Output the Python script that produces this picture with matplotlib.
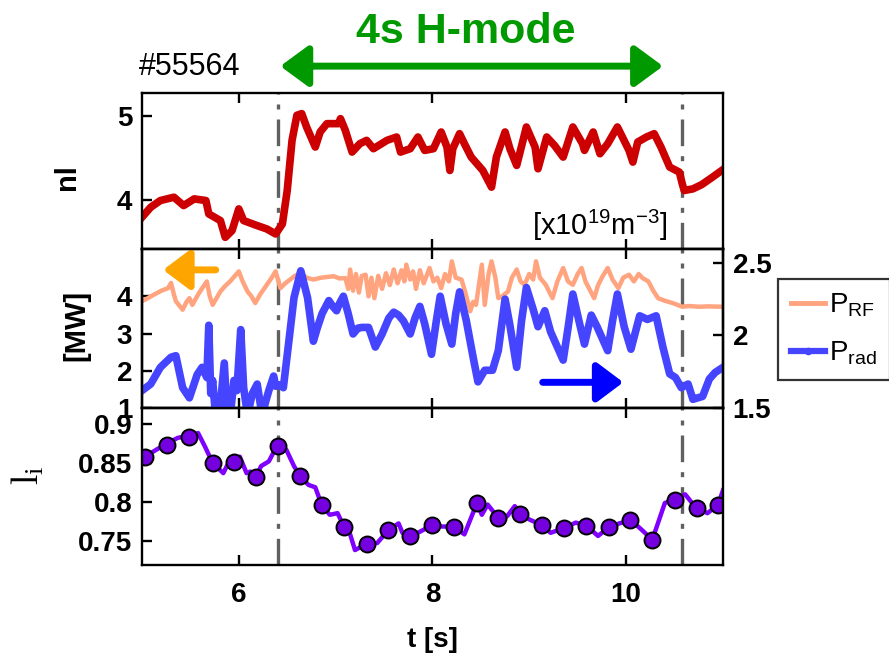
import matplotlib
matplotlib.use('Agg')
import matplotlib.pyplot as plt
from matplotlib.patches import FancyArrowPatch
from matplotlib.lines import Line2D

plt.rcParams['font.family'] = ['Liberation Sans', 'DejaVu Sans']
plt.rcParams['mathtext.default'] = 'regular'

# line-averaged density nl [1e19 m^-3]
nl_t = [5.00, 5.09, 5.19, 5.33, 5.43, 5.54, 5.66, 5.69, 5.81, 5.86, 5.93, 6.00, 6.05, 6.19,
        6.29, 6.38, 6.45, 6.50, 6.55, 6.60, 6.65, 6.70, 6.79, 6.84, 6.91, 7.03, 7.05, 7.10,
        7.17, 7.25, 7.32, 7.39, 7.53, 7.63, 7.67, 7.77, 7.85, 7.92, 8.01, 8.09, 8.15, 8.18,
        8.21, 8.28, 8.33, 8.40, 8.52, 8.61, 8.66, 8.75, 8.80, 8.87, 8.97, 9.06, 9.09, 9.18,
        9.26, 9.35, 9.45, 9.55, 9.57, 9.66, 9.73, 9.81, 9.91, 10.03, 10.07, 10.12, 10.21,
        10.29, 10.36, 10.45, 10.55, 10.58, 10.60, 10.69, 10.78, 10.88, 11.00]
nl_val = [3.79, 3.91, 3.99, 4.03, 3.93, 4.01, 3.99, 3.83, 3.75, 3.55, 3.63, 3.89, 3.75, 3.69,
          3.65, 3.59, 3.71, 4.11, 4.71, 5.01, 5.03, 4.87, 4.63, 4.81, 4.91, 4.91, 4.97, 4.83,
          4.57, 4.67, 4.71, 4.61, 4.71, 4.75, 4.57, 4.61, 4.75, 4.59, 4.61, 4.81, 4.63, 4.35,
          4.61, 4.79, 4.67, 4.51, 4.35, 4.15, 4.51, 4.81, 4.61, 4.41, 4.87, 4.63, 4.37, 4.75,
          4.65, 4.51, 4.87, 4.67, 4.59, 4.81, 4.55, 4.67, 4.87, 4.59, 4.45, 4.69, 4.75,
          4.79, 4.63, 4.39, 4.33, 4.19, 4.11, 4.13, 4.18, 4.26, 4.36]

# RF power [MW], left axis
prf_t = [5.00, 5.06, 5.12, 5.20, 5.27, 5.30, 5.33, 5.35, 5.42, 5.46, 5.49, 5.52, 5.58, 5.63,
         5.67, 5.70, 5.73, 5.77, 5.81, 5.86, 5.91, 5.96, 6.00, 6.04, 6.09, 6.13, 6.17, 6.22,
         6.29, 6.34, 6.38, 6.41, 6.43, 6.48, 6.53, 6.58, 6.64, 6.70, 6.77, 6.85, 6.92, 6.98,
         7.04, 7.10, 7.13, 7.15, 7.18, 7.21, 7.24, 7.27, 7.31, 7.34, 7.37, 7.40, 7.44, 7.48,
         7.52, 7.56, 7.60, 7.64, 7.68, 7.71, 7.73, 7.77, 7.80, 7.83, 7.87, 7.91, 7.97, 8.01,
         8.05, 8.09, 8.13, 8.17, 8.20, 8.24, 8.30, 8.34, 8.39, 8.42, 8.45, 8.48, 8.51, 8.54,
         8.58, 8.61, 8.65, 8.68, 8.72, 8.78, 8.82, 8.87, 8.91, 8.95, 9.00, 9.04, 9.07, 9.11,
         9.17, 9.21, 9.24, 9.29, 9.35, 9.40, 9.45, 9.50, 9.54, 9.58, 9.63, 9.67, 9.71, 9.76,
         9.81, 9.86, 9.92, 9.97, 10.03, 10.08, 10.13, 10.17, 10.23, 10.28, 10.33, 10.40,
         10.48, 10.58, 10.65, 10.75, 10.85, 11.00]
prf_val = [3.87, 3.95, 4.04, 4.15, 4.22, 4.36, 4.05, 3.87, 3.64, 3.85, 3.95, 3.77, 4.05, 4.25,
           4.40, 4.00, 3.77, 3.95, 4.13, 4.28, 4.40, 4.55, 4.67, 4.40, 4.13, 4.00, 3.82, 4.05,
           4.31, 4.50, 4.67, 4.40, 4.22, 4.35, 4.45, 4.55, 4.63, 4.50, 4.45, 4.50, 4.52, 4.54,
           4.48, 4.49, 4.20, 4.72, 4.15, 4.60, 4.10, 4.55, 4.58, 4.00, 4.50, 3.95, 4.55, 4.20,
           4.62, 4.30, 4.72, 4.35, 4.70, 4.40, 4.85, 4.45, 4.67, 4.20, 4.70, 4.35, 4.76, 4.40,
           4.50, 4.22, 4.60, 4.40, 4.94, 4.50, 4.45, 4.10, 3.60, 3.85, 3.77, 4.30, 4.85, 3.77,
           4.60, 4.94, 4.50, 3.95, 4.00, 4.13, 4.50, 4.72, 4.40, 4.31, 4.60, 4.45, 4.94, 4.50,
           4.31, 4.10, 3.95, 4.40, 4.76, 4.40, 4.31, 4.60, 4.76, 4.40, 4.15, 3.95, 4.30, 4.55,
           4.76, 4.45, 4.22, 4.50, 4.58, 4.40, 4.60, 4.49, 4.40, 4.15, 3.95, 3.88,
           3.82, 3.72, 3.74, 3.72, 3.73, 3.72]

# radiated power, right axis
prad_t = [5.00, 5.09, 5.19, 5.30, 5.35, 5.42, 5.49, 5.57, 5.62, 5.67, 5.69, 5.71, 5.73, 5.76,
          5.80, 5.85, 5.88, 5.92, 5.95, 5.98, 6.02, 6.05, 6.09, 6.14, 6.19, 6.24, 6.28, 6.31,
          6.36, 6.38, 6.42, 6.46, 6.51, 6.57, 6.64, 6.71, 6.77, 6.81, 6.86, 6.93, 6.97, 7.01,
          7.04, 7.08, 7.13, 7.18, 7.23, 7.27, 7.34, 7.41, 7.48, 7.55, 7.60, 7.65, 7.70, 7.77,
          7.82, 7.87, 7.92, 7.99, 8.04, 8.08, 8.14, 8.20, 8.24, 8.28, 8.35, 8.42, 8.47, 8.54,
          8.62, 8.68, 8.75, 8.80, 8.87, 8.92, 8.97, 9.04, 9.09, 9.16, 9.22, 9.29, 9.35, 9.40,
          9.45, 9.52, 9.57, 9.64, 9.70, 9.76, 9.81, 9.86, 9.91, 9.98, 10.05, 10.14, 10.22,
          10.31, 10.38, 10.45, 10.51, 10.57, 10.64, 10.69, 10.74, 10.79, 10.86, 10.92, 11.00]
prad_val = [1.62, 1.665, 1.78, 1.85, 1.86, 1.64, 1.57, 1.73, 1.78, 1.71, 2.07, 1.60, 1.69, 1.45,
            1.45, 1.81, 1.45, 1.50, 1.69, 1.62, 2.04, 1.64, 1.45, 1.60, 1.665, 1.45, 1.55, 1.62,
            1.72, 1.65, 1.66, 1.64, 1.92, 2.26, 2.445, 2.26, 1.96, 2.05, 2.15, 2.24, 2.20, 2.17,
            2.22, 2.27, 2.15, 2.01, 2.05, 2.055, 2.055, 1.92, 2.01, 2.12, 2.16, 2.14, 2.10, 2.01,
            2.12, 2.20, 2.08, 1.87, 2.10, 2.27, 2.08, 1.94, 2.15, 2.30, 2.10, 1.85, 1.68, 1.76,
            1.76, 1.895, 2.25, 2.07, 1.78, 2.10, 2.33, 2.18, 2.06, 2.17, 2.025, 1.92, 1.83, 2.05,
            2.285, 2.08, 1.94, 2.14, 2.06, 1.97, 1.895, 2.10, 2.285, 2.06, 1.905, 2.135, 2.11,
            2.135, 1.92, 1.735, 1.71, 1.64, 1.665, 1.56, 1.57, 1.58, 1.70, 1.745, 1.78]

# internal inductance li
li_t = [5.03, 5.15, 5.26, 5.37, 5.49, 5.58, 5.65, 5.73, 5.84, 5.90, 6.01, 6.08, 6.12, 6.18,
        6.23, 6.31, 6.40, 6.49, 6.57, 6.63, 6.72, 6.79, 6.86, 6.94, 7.02, 7.09, 7.15, 7.20,
        7.32, 7.43, 7.54, 7.65, 7.69, 7.77, 7.88, 8.00, 8.10, 8.22, 8.33, 8.46, 8.51, 8.57,
        8.68, 8.77, 8.85, 8.91, 9.00, 9.13, 9.22, 9.36, 9.48, 9.59, 9.71, 9.82, 9.93, 10.05,
        10.16, 10.27, 10.40, 10.50, 10.61, 10.72, 10.84, 10.95, 11.00]
li_val = [0.858, 0.867, 0.875, 0.882, 0.885, 0.888, 0.871, 0.850, 0.837, 0.852, 0.858, 0.837,
          0.839, 0.833, 0.846, 0.852, 0.873, 0.867, 0.846, 0.834, 0.822, 0.819, 0.795, 0.784,
          0.786, 0.768, 0.759, 0.739, 0.747, 0.748, 0.764, 0.773, 0.761, 0.756, 0.763, 0.771,
          0.769, 0.769, 0.759, 0.799, 0.784, 0.797, 0.780, 0.782, 0.795, 0.785, 0.778, 0.771,
          0.761, 0.767, 0.774, 0.770, 0.757, 0.768, 0.773, 0.777, 0.765, 0.752, 0.799, 0.803,
          0.810, 0.793, 0.786, 0.797, 0.815]
li_mark_t = [5.03, 5.26, 5.49, 5.73, 5.95, 6.18, 6.40, 6.63, 6.86, 7.09, 7.32, 7.54, 7.77,
             8.00, 8.22, 8.46, 8.68, 8.90, 9.13, 9.36, 9.59, 9.82, 10.04, 10.27, 10.50,
             10.73, 10.95]
li_mark = [0.858, 0.873, 0.883, 0.850, 0.851, 0.832, 0.871, 0.834, 0.796, 0.768, 0.747,
           0.764, 0.757, 0.771, 0.769, 0.799, 0.780, 0.785, 0.771, 0.767, 0.770, 0.768,
           0.777, 0.752, 0.803, 0.793, 0.797]

hmode_start, hmode_end = 6.40, 10.58
arrow_start, arrow_end = 6.40, 10.41

fig = plt.figure(figsize=(8.89, 6.68), dpi=100)
L, W = 0.1597, 0.6535
ax1 = fig.add_axes([L, 0.6272, W, 0.2340])
ax2 = fig.add_axes([L, 0.3892, W, 0.2380])
ax3 = fig.add_axes([L, 0.1542, W, 0.2350])
ax2r = ax2.twinx()

dashdot = (0, (8, 3, 1.5, 3))

for ax in (ax1, ax2, ax3, ax2r):
    ax.set_xlim(5, 11)
    for sp in ax.spines.values():
        sp.set_linewidth(1.7)
    ax.tick_params(direction='in', length=7, width=1.7, labelsize=20, pad=7)

for ax in (ax1, ax2, ax3):
    ax.set_xticks([6, 8, 10])
    ax.tick_params(axis='x', top=True, bottom=True)
    ax.tick_params(axis='y', right=False)
    ax.axvline(hmode_start, color='#606060', lw=2.4, ls=dashdot, zorder=0)
    ax.axvline(hmode_end, color='#606060', lw=2.4, ls=dashdot, zorder=0)
ax1.tick_params(axis='x', labelbottom=False)
ax2.tick_params(axis='x', labelbottom=False)
ax3.tick_params(axis='x', pad=12)

# top: density
ax1.plot(nl_t, nl_val, color='#CC0000', lw=5.5, solid_joinstyle='round')
ax1.set_ylim(3.41, 5.28)
ax1.set_yticks([4, 5])
ax1.set_yticklabels(['4', '5'], fontweight='bold')
ax1.text(0.905, 0.04, r'[x10$^{19}$m$^{-3}$]', transform=ax1.transAxes, ha='right',
         va='bottom', fontsize=21)

# middle: powers
ax2.plot(prf_t, prf_val, color='#FFA47E', lw=3.2)
ax2.set_ylim(1.0, 5.27)
ax2.set_yticks([1, 2, 3, 4])
ax2.set_yticklabels(['1', '2', '3', '4'], fontweight='bold')
ax2r.plot(prad_t, prad_val, color='#4545FF', lw=5.5, solid_joinstyle='round')
ax2r.set_ylim(1.5, 2.595)
ax2r.set_yticks([1.5, 2, 2.5])
ax2r.set_yticklabels(['1.5', '2', '2.5'], fontweight='bold')
ax2r.tick_params(axis='y', direction='in', length=7, width=1.7, pad=7)
ax2r.tick_params(axis='x', top=False, bottom=False)

ax2.add_patch(FancyArrowPatch((5.79, 4.71), (5.19, 4.71), color='#FFA500', lw=5,
                              arrowstyle='-|>,head_length=16,head_width=12',
                              mutation_scale=1, capstyle='round', zorder=5))
ax2r.add_patch(FancyArrowPatch((9.11, 1.677), (10.0, 1.677), color='#0000FF', lw=5,
                               arrowstyle='-|>,head_length=16,head_width=12',
                               mutation_scale=1, capstyle='round', zorder=5))

# bottom: li
ax3.plot(li_t, li_val, color='#7F00FF', lw=3.2)
ax3.plot(li_mark_t, li_mark, ls='none', marker='o', ms=11.5, mfc='#7400E0', mec='black',
         mew=1.4)
ax3.set_ylim(0.72, 0.92)
ax3.set_yticks([0.75, 0.8, 0.85, 0.9])
ax3.set_yticklabels(['0.75', '0.8', '0.85', '0.9'], fontweight='bold')
ax3.set_xticklabels(['6', '8', '10'], fontweight='bold')
ax3.set_xlabel('t [s]', fontsize=20, fontweight='bold', labelpad=14)

# axis labels
fig.text(67 / 889, 1 - 177 / 668, 'nl', rotation=90, fontsize=21, fontweight='bold',
         ha='center', va='center')
fig.text(76 / 889, 1 - 325 / 668, '[MW]', rotation=90, fontsize=21, fontweight='bold',
         ha='center', va='center')
fig.text(28 / 889, 1 - 475 / 668, r'l$_{i}$', rotation=90, fontsize=27,
         family=['Liberation Serif', 'DejaVu Serif'], ha='center', va='center')

# H-mode annotation
fig.text(466 / 889, 1 - 32 / 668, '4s H-mode', color='#009900', fontsize=31,
         fontweight='bold', ha='center', va='center')
fig.text(139 / 889, 1 - 67 / 668, '#55564', fontsize=22, ha='left', va='center')
ax1.add_patch(FancyArrowPatch((arrow_start, 1.17), (arrow_end, 1.17),
                              transform=ax1.get_xaxis_transform(), color='#009900', lw=5,
                              arrowstyle='<|-|>,head_length=17,head_width=12.5',
                              mutation_scale=1, clip_on=False))

# legend
handles = [Line2D([], [], color='#FFA47E', lw=3.5),
           Line2D([], [], color='#4545FF', lw=4.5, marker='.', ms=9)]
leg = fig.legend(handles, [r'P$_{RF}$', r'P$_{rad}$'], loc='upper left',
                 bbox_to_anchor=(778 / 889, 1 - 279 / 668), fontsize=20, frameon=True,
                 fancybox=False, edgecolor='black', handlelength=1.25, handletextpad=0.15,
                 borderpad=0.45, labelspacing=0.75, borderaxespad=0)
leg.get_frame().set_linewidth(1.6)

fig.savefig('out.png', dpi=100)
